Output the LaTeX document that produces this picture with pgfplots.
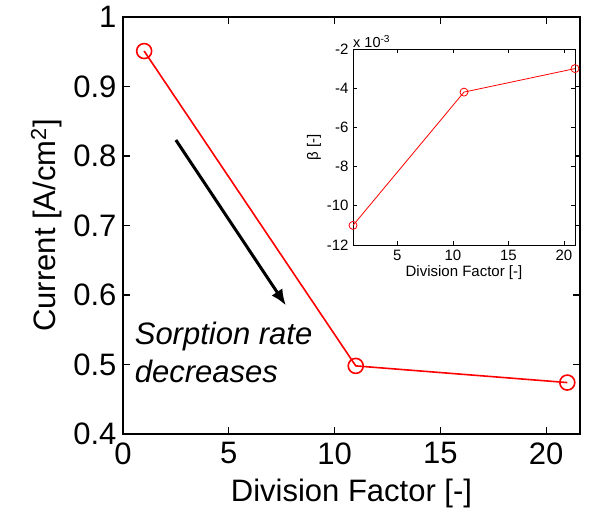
\documentclass[border=0pt]{standalone}
\usepackage{pgfplots}
\pgfplotsset{compat=1.18}
\usetikzlibrary{arrows.meta}
\usepackage{fontspec}
\setmainfont{Liberation Sans}

\definecolor{mred}{RGB}{255,0,0}

\begin{document}
\begin{tikzpicture}
% main plot: current versus division factor
\begin{axis}[
  name=main,
  scale only axis,
  width=457pt, height=417pt,
  xmin=0, xmax=21.6,
  ymin=0.4, ymax=1,
  xtick={0,5,10,15,20},
  ytick={0.4,0.5,0.6,0.7,0.8,0.9,1},
  yticklabel style={/pgf/number format/fixed, xshift=-3pt},
  xticklabel style={yshift=-5pt},
  tick align=inside,
  tick pos=both,
  major tick length=7pt,
  axis line style={line width=1.6pt},
  every tick/.style={line width=1.2pt, black},
  /pgf/number format/assume math mode=true,
  ticklabel style={font=\fontsize{31}{36}\selectfont},
  label style={font=\fontsize{31}{36}\selectfont},
  xlabel={Division Factor [-]},
  ylabel={Current [A/cm\textsuperscript{2}]},
  xlabel style={yshift=-8pt},
  ylabel style={yshift=5pt},
  clip=false,
]
\addplot[mred, line width=1.6pt, mark=o, mark size=7.5pt,
  mark options={line width=1.6pt}]
  coordinates {(1,0.951) (11,0.498) (21,0.474)};

% trend arrow
\draw[-{Latex[length=16pt,width=13pt]}, line width=3pt, black]
  (axis cs:2.5,0.823) -- (axis cs:7.7,0.585);

\node[anchor=base west, font=\fontsize{31}{36}\selectfont\itshape,
  align=left, inner sep=0pt] at (axis cs:0.55,0.529) {Sorption rate};
\node[anchor=base west, font=\fontsize{31}{36}\selectfont\itshape,
  align=left, inner sep=0pt] at (axis cs:0.55,0.474) {decreases};
\end{axis}

% inset: beta versus division factor
\begin{axis}[
  at={(main.south west)}, anchor=south west,
  xshift=230pt, yshift=189pt,
  scale only axis,
  width=222pt, height=196pt,
  axis background/.style={fill=white},
  xmin=1, xmax=21,
  ymin=-0.012, ymax=-0.002,
  xtick={5,10,15,20},
  ytick={-0.012,-0.010,-0.008,-0.006,-0.004,-0.002},
  scaled y ticks=base 10:3,
  ytick scale label code/.code={x 10\textsuperscript{#1}},
  every y tick scale label/.style={at={(rel axis cs:0,1)}, anchor=south west,
    xshift=1pt, yshift=1pt, inner sep=0pt, font=\fontsize{14.5}{16}\selectfont},
  xticklabel style={yshift=-2pt},
  yticklabel style={xshift=-1pt},
  tick align=inside,
  tick pos=both,
  major tick length=4pt,
  axis line style={line width=0.8pt},
  every tick/.style={line width=0.7pt, black},
  /pgf/number format/assume math mode=true,
  ticklabel style={font=\fontsize{15}{17}\selectfont},
  label style={font=\fontsize{15}{17}\selectfont},
  xlabel={Division Factor [-]},
  ylabel={β [-]},
  xlabel style={yshift=2pt},
  ylabel style={yshift=-1pt},
  clip=false,
]
\addplot[mred, line width=0.8pt, mark=o, mark size=4pt,
  mark options={line width=0.8pt}]
  coordinates {(1,-0.0110) (11,-0.0042) (21,-0.0030)};
\end{axis}

\path ([xshift=-123pt,yshift=-84pt]main.south west)
  rectangle ([xshift=9pt,yshift=17pt]main.north east);
\end{tikzpicture}
\end{document}
